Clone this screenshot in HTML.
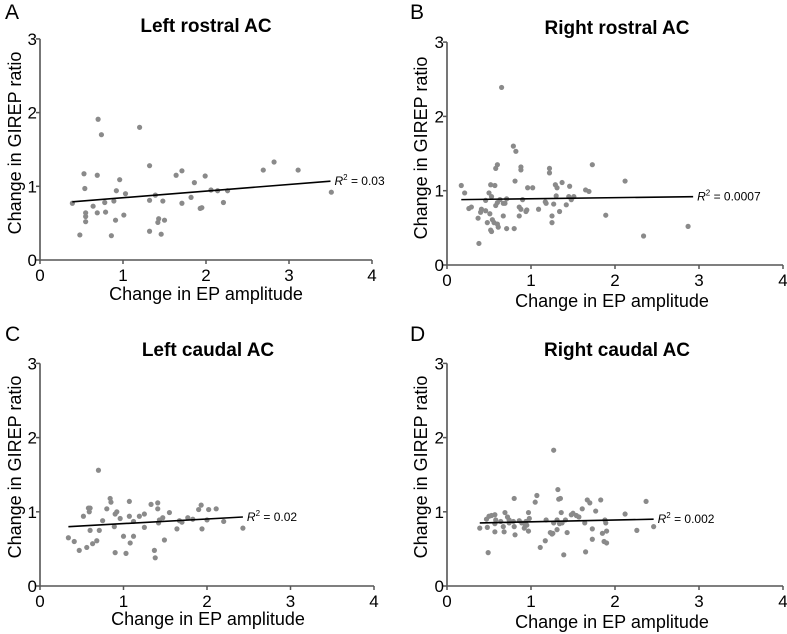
<!DOCTYPE html>
<html><head><meta charset="utf-8"><style>
html,body{margin:0;padding:0;background:#fff;}
svg{display:block;font-family:"Liberation Sans",Arial,sans-serif;}
</style></head><body>
<svg id="fig" width="787" height="634" viewBox="0 0 787 634"></svg>
<script>
const xTicks=[0,1,2,3,4];
const yTicks=[0,1,2,3];
const titles=["Left rostral AC","Right rostral AC","Left caudal AC","Right caudal AC"];
const letters=["A","B","C","D"];
const r2Labels=["0.03","0.0007","0.02","0.002"];
const fitA=[[0.39,0.79],[3.5,1.07]];
const fitB=[[0.17,0.88],[2.93,0.92]];
const fitC=[[0.34,0.80],[2.43,0.93]];
const fitD=[[0.39,0.85],[2.46,0.90]];
const xA=[0.39,0.48,0.53,0.54,0.55,0.55,0.55,0.64,0.69,0.69,0.70,0.74,0.78,0.79,0.86,0.89,0.92,0.91,0.96,1.01,1.03,1.20,1.32,1.32,1.32,1.39,1.43,1.42,1.46,1.48,1.50,1.64,1.71,1.71,1.82,1.86,1.93,1.95,1.99,2.06,2.14,2.21,2.26,2.69,2.82,3.11,3.51];
const yA=[0.77,0.34,1.17,0.97,0.64,0.59,0.52,0.73,1.15,0.64,1.91,1.70,0.78,0.65,0.33,0.80,0.94,0.54,1.09,0.61,0.90,1.80,1.28,0.81,0.39,0.88,0.56,0.51,0.35,0.80,0.54,1.15,1.21,0.77,0.85,1.05,0.70,0.71,1.14,0.95,0.94,0.78,0.94,1.22,1.33,1.22,0.92];
const xB=[0.17,0.21,0.26,0.29,0.37,0.38,0.40,0.41,0.46,0.46,0.48,0.50,0.51,0.52,0.52,0.53,0.53,0.54,0.56,0.57,0.58,0.58,0.60,0.60,0.60,0.61,0.63,0.65,0.67,0.67,0.69,0.71,0.71,0.79,0.80,0.81,0.82,0.86,0.86,0.88,0.88,0.90,0.88,0.94,0.95,0.96,1.02,1.09,1.17,1.18,1.22,1.22,1.25,1.25,1.27,1.29,1.30,1.31,1.34,1.37,1.42,1.45,1.46,1.48,1.51,1.65,1.69,1.73,1.89,2.12,2.34,2.87];
const yB=[1.07,0.97,0.76,0.78,0.63,0.29,0.71,0.75,0.73,0.87,0.57,0.97,0.69,1.08,0.47,0.45,0.92,0.61,0.57,1.07,0.80,1.30,1.35,0.84,0.55,0.51,0.88,2.39,0.66,0.83,0.83,0.89,0.49,1.60,0.49,1.13,1.53,0.78,0.66,1.28,1.32,0.88,0.75,0.72,0.74,1.04,1.04,0.75,0.85,0.83,1.30,1.24,0.57,0.66,0.82,1.08,0.93,1.04,0.72,1.11,0.81,0.92,1.06,0.88,0.92,1.01,0.99,1.35,0.67,1.13,0.39,0.52];
const xC=[0.34,0.41,0.47,0.52,0.56,0.58,0.59,0.60,0.60,0.63,0.68,0.70,0.71,0.75,0.80,0.84,0.85,0.89,0.90,0.90,0.92,0.96,1.00,1.03,1.07,1.07,1.08,1.12,1.12,1.19,1.25,1.25,1.33,1.37,1.38,1.41,1.41,1.42,1.43,1.47,1.49,1.55,1.64,1.67,1.70,1.77,1.83,1.90,1.93,1.94,2.00,2.02,2.11,2.20,2.43];
const yC=[0.65,0.60,0.48,0.94,0.52,1.05,1.00,1.05,0.75,0.57,0.61,1.56,0.75,0.88,1.04,1.18,1.13,0.80,0.97,0.45,1.00,0.91,0.67,0.44,1.14,0.94,0.58,0.87,0.67,0.94,0.79,0.97,1.10,0.48,0.38,1.12,1.04,0.85,0.89,0.92,0.62,0.99,0.77,0.88,0.86,0.92,0.90,1.03,1.09,0.77,0.89,1.03,1.04,0.87,0.78];
const xD=[0.39,0.47,0.48,0.50,0.49,0.53,0.57,0.57,0.58,0.57,0.64,0.67,0.68,0.69,0.72,0.74,0.74,0.79,0.80,0.80,0.81,0.86,0.89,0.92,0.93,0.94,0.95,0.97,0.97,0.98,1.05,1.07,1.11,1.17,1.18,1.23,1.25,1.26,1.27,1.27,1.31,1.32,1.33,1.35,1.31,1.34,1.37,1.36,1.39,1.41,1.43,1.48,1.50,1.54,1.57,1.61,1.64,1.65,1.67,1.70,1.73,1.73,1.77,1.83,1.85,1.87,1.88,1.89,1.90,1.90,2.12,2.26,2.37,2.46];
const yD=[0.78,0.90,0.79,0.94,0.45,0.95,0.84,0.96,0.89,0.73,0.87,0.80,0.73,0.99,0.93,0.85,0.89,0.87,0.80,1.18,0.69,0.88,0.85,0.78,0.83,0.87,0.82,0.74,0.99,0.91,1.13,1.22,0.52,0.61,0.89,0.72,0.70,0.71,1.83,0.85,0.89,1.30,1.17,1.18,0.76,0.84,0.85,0.99,0.42,0.89,0.72,0.96,0.98,0.95,0.93,1.04,0.85,0.46,1.16,1.12,0.77,0.63,1.01,1.16,0.71,0.60,0.89,0.85,0.74,0.58,0.97,0.75,1.14,0.80];

const layouts=[
 {x0:40,xs:83,y0:260,ys:73.7,tx:206,ty:32,lx:5,ly:19,ylx:15,yly:143,xlx:206,xly:300},
 {x0:447,xs:84,y0:265,ys:74.3,tx:617,ty:34,lx:410,ly:19,ylx:421,yly:148,xlx:612,xly:307},
 {x0:40,xs:83.5,y0:586,ys:74.2,tx:208,ty:356,lx:5,ly:341,ylx:15,yly:467,xlx:208,xly:625},
 {x0:447,xs:84,y0:586,ys:74.2,tx:617,ty:356,lx:410,ly:341,ylx:421,yly:467,xlx:612,xly:628}
];
const xs=[xA,xB,xC,xD], ys=[yA,yB,yC,yD], fits=[fitA,fitB,fitC,fitD];
const NS="http://www.w3.org/2000/svg";
const svg=document.getElementById('fig');
function mk(tag,attrs,parent){const e=document.createElementNS(NS,tag);for(const k in attrs)e.setAttribute(k,attrs[k]);(parent||svg).appendChild(e);return e;}
layouts.forEach((L,i)=>{
  const X=v=>L.x0+v*L.xs, Y=v=>L.y0-v*L.ys;
  const g=mk('g',{});
  
  
  const lt=mk('text',{x:L.lx,y:L.ly,'font-size':21,fill:'#000'},g);lt.textContent=letters[i];
  
  
  const t=mk('text',{x:L.tx,y:L.ty,'font-size':19,'font-weight':'bold','text-anchor':'middle'},g);t.textContent=titles[i];
  
  
  const ax=mk('path',{d:`M${X(0)} ${Y(3)}V${Y(0)}H${X(4)}`,stroke:'#555',fill:'none','stroke-width':1.6},g);
  
  
  xTicks.forEach(v=>{
    mk('line',{x1:X(v),x2:X(v),y1:Y(0),y2:Y(0)+4,stroke:'#555','stroke-width':1.5},g);
    const tl=mk('text',{x:X(v),y:Y(0)+21,'font-size':17,'text-anchor':'middle'},g);tl.textContent=v;
    
    
  });
  yTicks.forEach(v=>{
    mk('line',{x1:X(0)-4,x2:X(0),y1:Y(v),y2:Y(v),stroke:'#555','stroke-width':1.5},g);
    const tl=mk('text',{x:X(0)-3,y:Y(v)+6,'font-size':17,'text-anchor':'end'},g);tl.textContent=v;
    
    
  });
  const yl=mk('text',{x:0,y:0,'font-size':18,'text-anchor':'middle',transform:`translate(${L.ylx+6},${L.yly}) rotate(-90)`},g);yl.textContent='Change in GIREP ratio';
  
  
  const xl=mk('text',{x:L.xlx,y:L.xly,'font-size':18,'text-anchor':'middle'},g);xl.textContent='Change in EP amplitude';
  
  
  xs[i].forEach((xv,j)=>{
    if(ys[i][j]===undefined) return;
    const c=mk('circle',{cx:X(xv),cy:Y(ys[i][j]),r:2.6,fill:'#8a8a8a'},g);
    
    
  });
  const f=fits[i];
  const ln=mk('line',{x1:X(f[0][0]),y1:Y(f[0][1]),x2:X(f[1][0]),y2:Y(f[1][1]),stroke:'#000','stroke-width':1.6},g);
  
  
  const r=mk('text',{x:X(f[1][0])+4,y:Y(f[1][1])+4,'font-size':12},g);
  r.innerHTML='<tspan font-style="italic">R</tspan><tspan dy="-5" font-size="8">2</tspan><tspan dy="5"> = '+r2Labels[i]+'</tspan>';
  
  
});
</script>
</body></html>
